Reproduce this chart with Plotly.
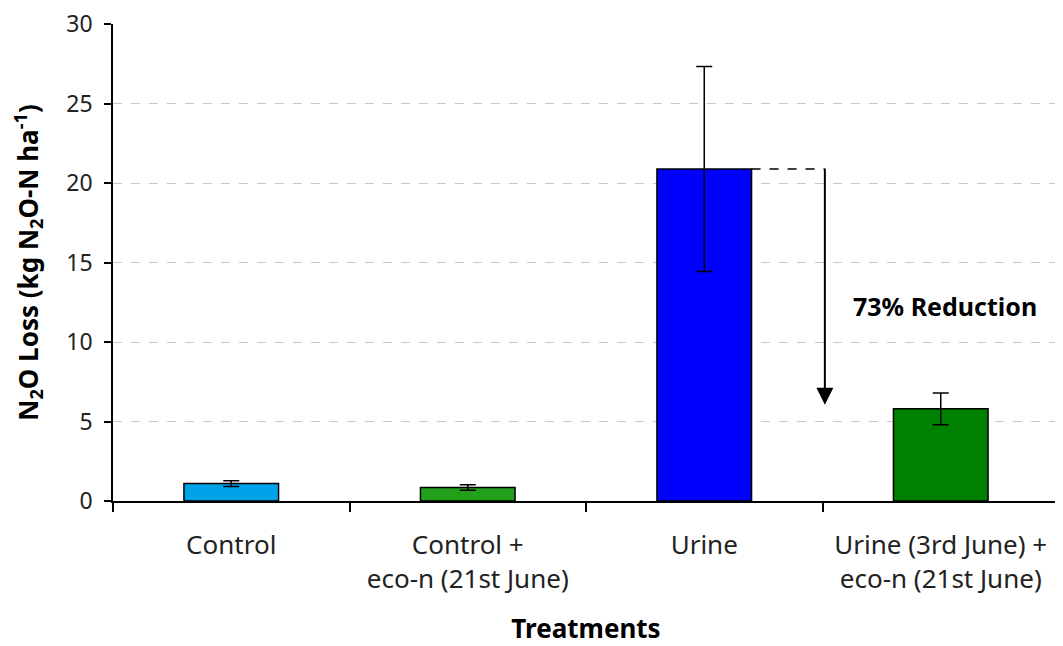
import plotly.graph_objects as go

categories = ["Control", "Control +<br>eco-n (21st June)", "Urine", "Urine (3rd June) +<br>eco-n (21st June)"]
values = [1.1, 0.85, 20.9, 5.8]
errors = [0.18, 0.17, 6.45, 1.0]
colors = ["#00A2E8", "#22A01C", "#0000FF", "#008000"]
y_ticks = [0, 5, 10, 15, 20, 25, 30]
reduction_label = "73% Reduction"

FONT = "Noto Sans"
BAR_W = 0.4

fig = go.Figure()
fig.add_trace(go.Bar(
    x=categories,
    y=values,
    width=BAR_W,
    marker=dict(color=colors, line=dict(color="black", width=1.5)),
    error_y=dict(type="data", array=errors, visible=True, color="black", thickness=1.5, width=8),
    showlegend=False,
))

# dashed reference line from top of Urine bar to arrow
arrow_x = 2.51
fig.add_shape(type="line", xref="x", yref="y",
              x0=2 + BAR_W / 2, x1=arrow_x, y0=values[2], y1=values[2],
              line=dict(color="black", width=1.5, dash="dash"))

# arrow
fig.add_annotation(x=arrow_x, y=values[3] + 0.25, ax=arrow_x, ay=values[2] + 0.1,
                   xref="x", yref="y", axref="x", ayref="y",
                   showarrow=True, arrowhead=2, arrowsize=1.7, arrowwidth=2,
                   arrowcolor="black", text="")
fig.add_annotation(x=3.02, y=12.3, xref="x", yref="y", text="<b>" + reduction_label + "</b>",
                   showarrow=False, font=dict(family=FONT, size=25, color="black"))

# page body has an 8px margin, so the figure is shifted by 8px
fig.update_layout(
    width=1055, height=638,
    margin=dict(l=105, r=4, t=16, b=145, autoexpand=False),
    paper_bgcolor="white", plot_bgcolor="white",
    font=dict(family=FONT, color="#222222"),
    bargap=0.6,
)
fig.update_xaxes(
    type="category",
    range=[-0.5, 3.5],
    showline=True, linecolor="black", linewidth=1.5,
    ticks="outside", tickson="boundaries", ticklen=9, tickcolor="black", tickwidth=1.5,
    showgrid=False, zeroline=False, automargin=False,
    tickfont=dict(family=FONT, size=26, color="#222222"),
    ticklabelstandoff=20,
    title=dict(text="<b>Treatments</b>", font=dict(family=FONT, size=26, color="black"), standoff=40),
)
fig.update_yaxes(
    range=[0, 30.02], tickvals=y_ticks,
    showline=True, linecolor="black", linewidth=1.5,
    ticks="outside", ticklen=7, tickcolor="black", tickwidth=1.5,
    showgrid=True, gridcolor="#C8C8C8", gridwidth=1, griddash="dash",
    zeroline=False, automargin=False, ticklabeloverflow="allow",
    tickfont=dict(family=FONT, size=23, color="#222222"),
    ticklabelstandoff=7,
    title=dict(text="<b>N<sub>2</sub>O Loss (kg N<sub>2</sub>O-N ha<sup>-1</sup>)</b>",
               font=dict(family=FONT, size=26, color="black"), standoff=21),
)

fig.write_html("out.html")
